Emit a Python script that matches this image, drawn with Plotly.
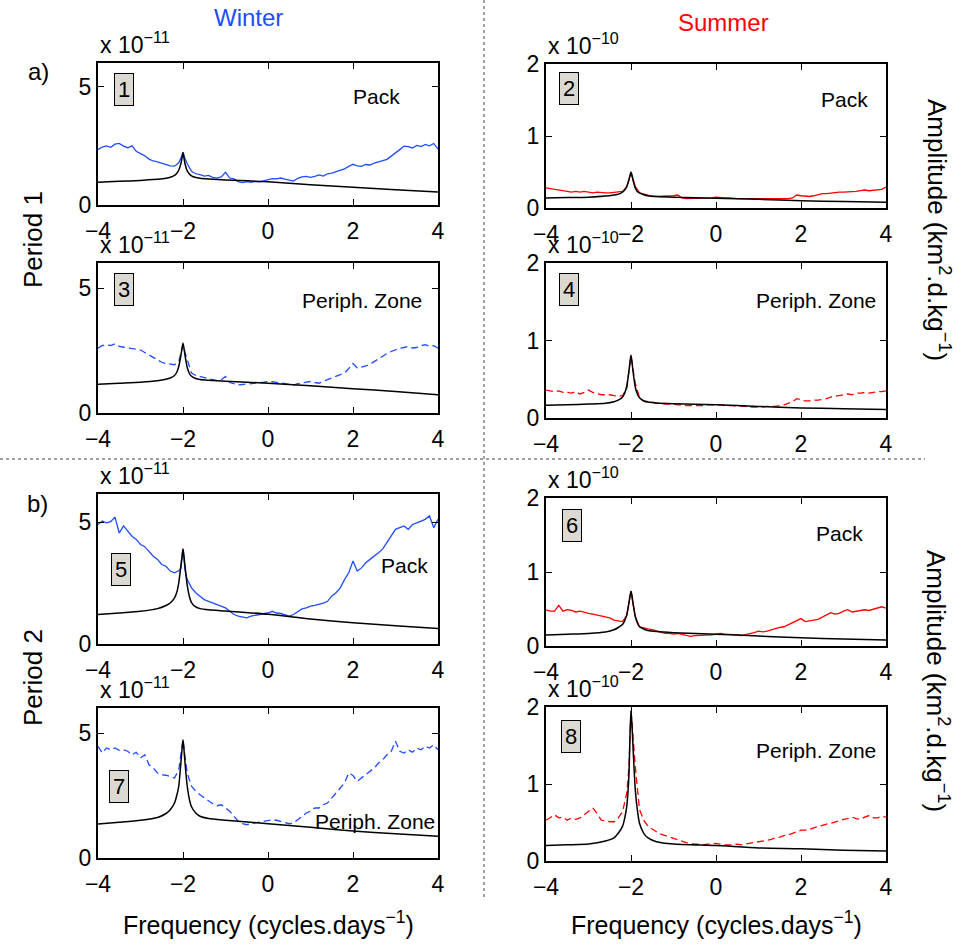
import plotly.graph_objects as go

W, H = 959, 946
FONT = "Liberation Sans, Arial, Helvetica, sans-serif"
BLUE = "#1f4dff"
RED = "#ff0000"

# ---------------- data (amplitudes in units of the axis multiplier) ----------------
freq = [round(-4 + 0.1 * i, 1) for i in range(81)]   # cycles/day
peak_freq = [-2.05, -1.95]

# Period 1, Winter, Pack (x 1e-11)
w1_pack = [2.34, 2.45, 2.50, 2.44, 2.57, 2.60, 2.49, 2.42, 2.50, 2.27,
           2.17, 2.08, 1.94, 1.86, 1.82, 1.76, 1.72, 1.65, 1.64, 1.78,
           2.22, 1.74, 1.42, 1.32, 1.28, 1.22, 1.25, 1.17, 1.14, 1.19,
           1.38, 1.14, 1.10, 0.99, 0.95, 0.99, 0.96, 1.00, 0.98, 1.02,
           1.08, 1.11, 1.10, 1.14, 1.09, 1.06, 1.01, 1.13, 1.19, 1.21,
           1.17, 1.21, 1.27, 1.22, 1.32, 1.35, 1.40, 1.46, 1.53, 1.63,
           1.72, 1.65, 1.63, 1.71, 1.69, 1.77, 1.81, 1.88, 1.93, 2.06,
           2.20, 2.34, 2.49, 2.47, 2.41, 2.52, 2.47, 2.56, 2.50, 2.60,
           2.36]
w1_pack_peak = [1.98, 1.95]

# Period 1, Summer, Pack (x 1e-10)
s1_pack = [0.28, 0.27, 0.25, 0.24, 0.24, 0.23, 0.22, 0.23, 0.22, 0.23,
           0.22, 0.21, 0.22, 0.21, 0.21, 0.21, 0.22, 0.22, 0.23, 0.29,
           0.49, 0.30, 0.21, 0.19, 0.17, 0.16, 0.16, 0.16, 0.16, 0.16,
           0.17, 0.18, 0.14, 0.13, 0.13, 0.13, 0.13, 0.13, 0.14, 0.14,
           0.15, 0.14, 0.14, 0.14, 0.13, 0.13, 0.13, 0.13, 0.13, 0.12,
           0.13, 0.12, 0.12, 0.12, 0.12, 0.12, 0.12, 0.13, 0.14, 0.18,
           0.17, 0.16, 0.16, 0.17, 0.19, 0.20, 0.20, 0.21, 0.21, 0.22,
           0.22, 0.22, 0.23, 0.23, 0.24, 0.25, 0.24, 0.25, 0.26, 0.26,
           0.29]
s1_pack_peak = [0.40, 0.40]

# Period 1, Winter, Peripheral zone (x 1e-11)
w1_periph = [2.59, 2.70, 2.72, 2.70, 2.77, 2.66, 2.63, 2.60, 2.60, 2.55,
             2.52, 2.42, 2.33, 2.22, 2.12, 2.03, 1.98, 1.95, 1.93, 2.06,
             2.72, 2.12, 1.60, 1.50, 1.46, 1.40, 1.35, 1.33, 1.29, 1.33,
             1.46, 1.22, 1.17, 1.12, 1.14, 1.15, 1.18, 1.18, 1.21, 1.23,
             1.26, 1.25, 1.22, 1.20, 1.18, 1.15, 1.12, 1.17, 1.19, 1.24,
             1.26, 1.22, 1.19, 1.27, 1.33, 1.39, 1.47, 1.52, 1.60, 1.78,
             1.98, 1.80, 1.83, 1.88, 1.95, 2.06, 2.18, 2.29, 2.38, 2.46,
             2.53, 2.59, 2.62, 2.66, 2.60, 2.62, 2.70, 2.73, 2.67, 2.69,
             2.59]
w1_periph_peak = [2.45, 2.40]

# Period 1, Summer, Peripheral zone (x 1e-10)
s1_periph = [0.36, 0.35, 0.34, 0.35, 0.33, 0.33, 0.32, 0.34, 0.31, 0.33,
             0.36, 0.33, 0.31, 0.30, 0.30, 0.30, 0.29, 0.28, 0.29, 0.38,
             0.79, 0.45, 0.26, 0.22, 0.21, 0.20, 0.19, 0.19, 0.18, 0.18,
             0.18, 0.17, 0.17, 0.16, 0.16, 0.16, 0.16, 0.16, 0.17, 0.17,
             0.17, 0.17, 0.16, 0.16, 0.16, 0.15, 0.15, 0.15, 0.14, 0.14,
             0.14, 0.14, 0.15, 0.15, 0.15, 0.16, 0.17, 0.19, 0.21, 0.25,
             0.23, 0.22, 0.22, 0.23, 0.23, 0.24, 0.25, 0.27, 0.28, 0.29,
             0.30, 0.31, 0.30, 0.32, 0.32, 0.33, 0.32, 0.33, 0.34, 0.34,
             0.35]
s1_periph_peak = [0.60, 0.62]

# Period 2, Winter, Pack (x 1e-11)
w2_pack = [4.90, 5.04, 4.97, 5.02, 5.20, 4.55, 4.84, 4.63, 4.42, 4.29,
           4.08, 3.99, 3.81, 3.60, 3.47, 3.26, 3.19, 2.99, 2.92, 3.00,
           3.88, 2.64, 2.30, 2.10, 1.96, 1.82, 1.75, 1.68, 1.62, 1.55,
           1.48, 1.34, 1.21, 1.14, 1.11, 1.07, 1.14, 1.16, 1.21, 1.25,
           1.27, 1.34, 1.27, 1.25, 1.21, 1.14, 1.21, 1.34, 1.44, 1.48,
           1.55, 1.58, 1.62, 1.68, 1.75, 1.96, 2.10, 2.30, 2.64, 2.92,
           3.40, 2.99, 3.12, 3.33, 3.47, 3.60, 3.74, 3.90, 4.15, 4.42,
           4.70, 4.77, 4.84, 4.70, 4.90, 4.97, 5.04, 5.11, 5.25, 4.77,
           5.11]
w2_pack_peak = [3.10, 3.00]

# Period 2, Summer, Pack (x 1e-10)
s2_pack = [0.49, 0.47, 0.47, 0.55, 0.47, 0.49, 0.48, 0.46, 0.47, 0.45,
           0.44, 0.43, 0.42, 0.41, 0.40, 0.38, 0.35, 0.34, 0.33, 0.41,
           0.74, 0.40, 0.26, 0.24, 0.23, 0.22, 0.20, 0.19, 0.17, 0.17,
           0.16, 0.17, 0.16, 0.14, 0.13, 0.14, 0.14, 0.14, 0.14, 0.15,
           0.16, 0.17, 0.16, 0.16, 0.15, 0.15, 0.14, 0.15, 0.17, 0.18,
           0.20, 0.19, 0.20, 0.22, 0.24, 0.25, 0.26, 0.29, 0.31, 0.35,
           0.37, 0.33, 0.34, 0.35, 0.36, 0.39, 0.42, 0.45, 0.43, 0.44,
           0.47, 0.49, 0.46, 0.47, 0.47, 0.49, 0.48, 0.50, 0.51, 0.53,
           0.51]
s2_pack_peak = [0.58, 0.56]

# Period 2, Winter, Peripheral zone (x 1e-11)
w2_periph = [4.47, 4.20, 4.40, 4.33, 4.40, 4.31, 4.33, 4.27, 4.13, 4.23,
             4.00, 4.13, 3.73, 3.60, 3.40, 3.33, 3.31, 3.27, 3.20, 3.53,
             4.73, 3.40, 2.87, 2.67, 2.53, 2.40, 2.27, 2.17, 2.09, 2.13,
             2.00, 1.87, 1.67, 1.47, 1.37, 1.33, 1.37, 1.40, 1.43, 1.47,
             1.47, 1.53, 1.51, 1.47, 1.40, 1.37, 1.40, 1.53, 1.67, 1.80,
             1.87, 2.00, 2.00, 2.13, 2.20, 2.40, 2.60, 2.80, 3.00, 3.40,
             3.30, 3.07, 3.20, 3.33, 3.47, 3.60, 3.80, 3.93, 4.13, 4.27,
             4.67, 4.27, 4.20, 4.33, 4.23, 4.40, 4.33, 4.47, 4.40, 4.53,
             4.33]
w2_periph_peak = [4.10, 4.00]

# Period 2, Summer, Peripheral zone (x 1e-10)
s2_periph = [0.53, 0.57, 0.60, 0.56, 0.57, 0.53, 0.56, 0.54, 0.56, 0.60,
             0.64, 0.69, 0.62, 0.53, 0.52, 0.51, 0.51, 0.56, 0.64, 0.88,
             1.95, 1.23, 0.67, 0.53, 0.45, 0.41, 0.38, 0.35, 0.33, 0.32,
             0.30, 0.27, 0.25, 0.24, 0.23, 0.22, 0.22, 0.21, 0.22, 0.22,
             0.23, 0.22, 0.21, 0.21, 0.21, 0.22, 0.21, 0.22, 0.23, 0.24,
             0.25, 0.26, 0.27, 0.28, 0.30, 0.31, 0.33, 0.34, 0.36, 0.38,
             0.40, 0.40, 0.41, 0.43, 0.45, 0.46, 0.48, 0.49, 0.51, 0.52,
             0.54, 0.55, 0.57, 0.55, 0.54, 0.57, 0.59, 0.56, 0.56, 0.58,
             0.57]
s2_periph_peak = [1.20, 1.60]

# Fitted model spectra (black)
fit_freq = [-4, -3.5, -3, -2.6, -2.4, -2.3, -2.2, -2.15, -2.1, -2.05, -2.02, -2.0,
            -1.98, -1.95, -1.9, -1.85, -1.8, -1.7, -1.6, -1.4, -1.0, 0, 1, 2, 3, 4]
fit_w1_pack = [0.96, 1.00, 1.04, 1.09, 1.13, 1.17, 1.25, 1.33, 1.47, 1.75, 2.02, 2.22,
               2.02, 1.72, 1.44, 1.31, 1.23, 1.16, 1.13, 1.10, 1.06, 0.98, 0.86, 0.75, 0.64, 0.55]
fit_s1_pack = [0.14, 0.145, 0.15, 0.165, 0.18, 0.19, 0.22, 0.25, 0.30, 0.39, 0.46, 0.50,
               0.46, 0.38, 0.28, 0.23, 0.21, 0.185, 0.17, 0.16, 0.15, 0.135, 0.12, 0.10, 0.09, 0.08]
fit_w1_periph = [1.15, 1.19, 1.23, 1.29, 1.35, 1.40, 1.50, 1.62, 1.86, 2.30, 2.62, 2.79,
                 2.62, 2.28, 1.82, 1.58, 1.47, 1.38, 1.34, 1.31, 1.27, 1.19, 1.09, 0.97, 0.86, 0.73]
fit_s1_periph = [0.165, 0.17, 0.18, 0.19, 0.21, 0.23, 0.27, 0.32, 0.41, 0.60, 0.74, 0.81,
                 0.74, 0.59, 0.40, 0.31, 0.26, 0.22, 0.205, 0.195, 0.185, 0.17, 0.15, 0.13, 0.12, 0.11]
fit_w2_pack = [1.21, 1.27, 1.34, 1.45, 1.58, 1.68, 1.89, 2.10, 2.51, 3.20, 3.65, 3.90,
               3.65, 3.15, 2.40, 1.95, 1.70, 1.52, 1.45, 1.40, 1.35, 1.22, 1.02, 0.87, 0.75, 0.64]
fit_s2_pack = [0.15, 0.16, 0.17, 0.19, 0.22, 0.25, 0.29, 0.34, 0.42, 0.58, 0.69, 0.74,
               0.69, 0.57, 0.40, 0.31, 0.26, 0.23, 0.21, 0.195, 0.18, 0.16, 0.135, 0.11, 0.095, 0.08]
fit_w2_periph = [1.36, 1.43, 1.51, 1.62, 1.78, 1.93, 2.20, 2.48, 2.87, 3.80, 4.40, 4.73,
                 4.40, 3.75, 2.87, 2.35, 2.05, 1.80, 1.67, 1.58, 1.51, 1.37, 1.23, 1.08, 0.97, 0.87]
fit_s2_periph = [0.20, 0.21, 0.22, 0.26, 0.30, 0.36, 0.45, 0.55, 0.71, 1.10, 1.70, 1.95,
                 1.80, 1.45, 0.93, 0.66, 0.49, 0.36, 0.30, 0.25, 0.22, 0.20, 0.17, 0.16, 0.14, 0.13]

x_ticks = [-4, -2, 0, 2, 4]
x_ticktext = ["\u22124", "\u22122", "0", "2", "4"]
panel_labels = ["Pack", "Pack", "Periph. Zone", "Periph. Zone",
                "Pack", "Pack", "Periph. Zone", "Periph. Zone"]
panel_numbers = ["1", "2", "3", "4", "5", "6", "7", "8"]

# ---------------- layout geometry (pixels) ----------------
panels = [
    # series, peak, fit, color, dash, box(x0,x1,y0,y1), ymax, yticks, exponent, numbox(px), label(px)
    (w1_pack, w1_pack_peak, fit_w1_pack, BLUE, "solid", (98, 438, 63, 205), 6, [0, 5], "\u221211", (123.5, 89.5), (376, 97)),
    (s1_pack, s1_pack_peak, fit_s1_pack, RED, "solid", (546, 886, 64, 208), 2, [0, 1, 2], "\u221210", (568.5, 88.5), (844.5, 100)),
    (w1_periph, w1_periph_peak, fit_w1_periph, BLUE, "dash", (98, 438, 263, 413), 6, [0, 5], "\u221211", (123.5, 290), (361.5, 300)),
    (s1_periph, s1_periph_peak, fit_s1_periph, RED, "dash", (546, 886, 263, 418), 2, [0, 1, 2], "\u221210", (568.5, 289.5), (815.5, 300)),
    (w2_pack, w2_pack_peak, fit_w2_pack, BLUE, "solid", (98, 438, 494, 644), 6.15, [0, 5], "\u221211", (120.5, 569), (404.5, 565)),
    (s2_pack, s2_pack_peak, fit_s2_pack, RED, "solid", (546, 886, 498, 646), 2, [0, 1, 2], "\u221210", (572, 525.5), (839, 533)),
    (w2_periph, w2_periph_peak, fit_w2_periph, BLUE, "dash", (98, 438, 708, 858), 6, [0, 5], "\u221211", (119, 786.5), (375, 821)),
    (s2_periph, s2_periph_peak, fit_s2_periph, RED, "dash", (546, 886, 707, 861), 2, [0, 1, 2], "\u221210", (571, 736), (815.5, 750)),
]


def px(x, y):
    return x / W, 1 - y / H


fig = go.Figure()
annotations = []
layout_axes = {}

for i, (ser, pk, fit, col, dash, box, ymax, yt, expo, nb, lab) in enumerate(panels):
    n = i + 1
    xa = "x" if n == 1 else f"x{n}"
    ya = "y" if n == 1 else f"y{n}"
    pts = sorted(list(zip(freq, ser)) + list(zip(peak_freq, pk)))
    xs = [p[0] for p in pts]
    ys = [p[1] for p in pts]
    fig.add_trace(go.Scatter(x=xs, y=ys, mode="lines", xaxis=xa, yaxis=ya,
                             line=dict(color=col, width=1.3,
                                       dash="solid" if dash == "solid" else "7px,4px"),
                             showlegend=False, hoverinfo="skip"))
    fig.add_trace(go.Scatter(x=fit_freq, y=fit, mode="lines", xaxis=xa, yaxis=ya,
                             line=dict(color="black", width=1.5, shape="spline", smoothing=0.6),
                             showlegend=False, hoverinfo="skip"))
    x0, x1, y0, y1 = box
    axcommon = dict(showline=True, linecolor="black", linewidth=2, mirror="allticks",
                    ticks="inside", ticklen=6, tickwidth=1, tickcolor="black",
                    showgrid=False, zeroline=False, automargin=False,
                    tickfont=dict(family=FONT, size=23, color="black"))
    layout_axes["xaxis" if n == 1 else f"xaxis{n}"] = dict(
        domain=[x0 / W, x1 / W], anchor=ya, range=[-4, 4], ticklabelstandoff=4,
        tickvals=x_ticks, ticktext=x_ticktext, **axcommon)
    layout_axes["yaxis" if n == 1 else f"yaxis{n}"] = dict(
        domain=[1 - y1 / H, 1 - y0 / H], anchor=xa, range=[0, ymax],
        tickvals=yt, ticktext=[str(v) for v in yt], **axcommon)
    # exponent label
    ex, ey = px(x0, y0 - 3)
    annotations.append(dict(x=ex, y=ey, xref="paper", yref="paper", xanchor="left", yanchor="bottom",
                            text=f"x 10<sup>{expo}</sup>", showarrow=False,
                            font=dict(family=FONT, size=23, color="black")))
    # number box
    bx, by = px(*nb)
    annotations.append(dict(x=bx, y=by, xref="paper", yref="paper", xanchor="center", yanchor="middle",
                            text=panel_numbers[i], showarrow=False, bgcolor="#dcd8d2",
                            bordercolor="black", borderwidth=1, borderpad=3,
                            font=dict(family=FONT, size=22, color="black")))
    # region label
    lx, ly = px(*lab)
    annotations.append(dict(x=lx, y=ly, xref="paper", yref="paper", xanchor="center", yanchor="middle",
                            text=panel_labels[i], showarrow=False,
                            font=dict(family=FONT, size=21, color="black")))

# global texts
def txt(x, y, s, size=23, color="black", angle=0):
    tx, ty = px(x, y)
    annotations.append(dict(x=tx, y=ty, xref="paper", yref="paper", xanchor="center", yanchor="middle",
                            text=s, showarrow=False, textangle=angle,
                            font=dict(family=FONT, size=size, color=color)))

txt(248, 18, "Winter", 24, BLUE)
txt(723, 22, "Summer", 24, RED)
txt(38, 72, "a)", 24)
txt(37, 503, "b)", 24)
txt(33, 240, "Period 1", 26, angle=-90)
txt(33, 678, "Period 2", 26, angle=-90)
txt(938, 230, "Amplitude (km<sup>2</sup>.d.kg<sup>\u22121</sup>)", 26, angle=90)
txt(938, 681, "Amplitude (km<sup>2</sup>.d.kg<sup>\u22121</sup>)", 26, angle=90)
txt(268, 923, "Frequency (cycles.days<sup>\u22121</sup>)", 25)
txt(716, 923, "Frequency (cycles.days<sup>\u22121</sup>)", 25)

shapes = [
    dict(type="line", xref="paper", yref="paper", x0=484 / W, x1=484 / W, y0=1, y1=1 - 900 / H,
         line=dict(color="#444444", width=1, dash="dot")),
    dict(type="line", xref="paper", yref="paper", x0=0, x1=925 / W, y0=1 - 459 / H, y1=1 - 459 / H,
         line=dict(color="#444444", width=1, dash="dot")),
]

fig.update_layout(width=W, height=H, margin=dict(l=0, r=0, t=0, b=0, autoexpand=False),
                  paper_bgcolor="white", plot_bgcolor="white",
                  annotations=annotations, shapes=shapes, **layout_axes)

fig.write_html("out.html", config={"displayModeBar": False},
               post_script="document.body.style.margin='0';document.body.style.overflow='hidden';")
